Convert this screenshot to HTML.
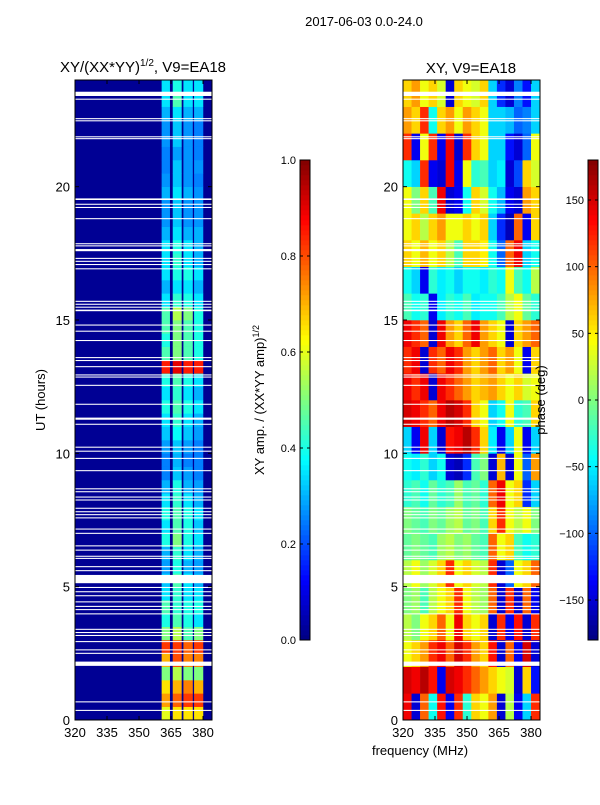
<!DOCTYPE html>
<html><head><meta charset="utf-8"><style>
body{margin:0;background:#fff;font-family:"Liberation Sans",sans-serif}
svg text{font-family:"Liberation Sans",sans-serif;fill:#000}
</style></head><body>
<svg id="fig" width="600" height="800" xmlns="http://www.w3.org/2000/svg">
<text x="364" y="26" font-size="13" text-anchor="middle">2017-06-03 0.0-24.0</text>
<text x="143" y="72" font-size="15" text-anchor="middle">XY/(XX*YY)<tspan font-size="10" dy="-6">1/2</tspan><tspan dy="6">, V9=EA18</tspan></text>
<text x="471" y="73" font-size="15" text-anchor="middle">XY, V9=EA18</text>
<text transform="translate(45,400) rotate(-90)" font-size="13" text-anchor="middle">UT (hours)</text>
<text x="420" y="755" font-size="13" text-anchor="middle">frequency (MHz)</text>
<text transform="translate(264,400) rotate(-90)" font-size="13" text-anchor="middle">XY amp. / (XX*YY amp)<tspan font-size="9" dy="-5">1/2</tspan></text>
<g id="left"></g>
<g id="right"></g>
<g id="cb1"></g>
<g id="cb2"></g>
<g id="axes"></g>
<text transform="translate(545,400) rotate(-90)" font-size="13" text-anchor="middle">phase (deg)</text>
</svg>
<script>
const ampBands = [[360.6,364.5],[365.8,370],[370.8,375.2],[375.8,380.1]];
const ampRows = [
[0.6,0.65,0.65,0.65],[0.72,0.78,0.82,0.82],[0.65,0.7,0.75,0.7],[0.5,0.55,0.5,0.5],
[0.7,0.8,0.75,0.75],[0.82,0.82,0.78,0.82],[0.5,0.55,0.45,0.5],[0.4,0.45,0.4,0.35],
[0.45,0.42,0.4,0.4],[0.35,0.42,0.35,0.35],[0.32,0.45,0.35,0.3],[0.28,0.4,0.3,0.28],
[0.3,0.42,0.35,0.3],[0.4,0.5,0.4,0.35],[0.35,0.45,0.4,0.32],[0.4,0.45,0.4,0.35],
[0.35,0.42,0.35,0.3],[0.3,0.4,0.3,0.28],[0.25,0.32,0.28,0.25],[0.25,0.3,0.25,0.25],
[0.28,0.32,0.28,0.25],[0.32,0.38,0.32,0.28],[0.35,0.42,0.35,0.3],[0.4,0.45,0.4,0.35],
[0.35,0.42,0.35,0.3],[0.4,0.45,0.4,0.35],[0.85,0.9,0.85,0.85],[0.45,0.5,0.45,0.4],
[0.4,0.5,0.45,0.4],[0.45,0.5,0.45,0.4],[0.45,0.55,0.5,0.4],[0.35,0.42,0.4,0.35],
[0.3,0.35,0.35,0.3],[0.35,0.4,0.4,0.35],[0.35,0.42,0.35,0.3],[0.35,0.4,0.35,0.3],
[0.3,0.35,0.3,0.3],[0.27,0.32,0.27,0.27],[0.27,0.32,0.27,0.27],[0.3,0.35,0.3,0.27],
[0.27,0.32,0.27,0.25],[0.25,0.32,0.27,0.27],[0.25,0.28,0.27,0.25],[0.27,0.32,0.27,0.25],
[0.27,0.32,0.27,0.25],[0.3,0.35,0.3,0.3],[0.35,0.45,0.35,0.35],[0.35,0.4,0.35,0.35]];
const ampBackground = 0.02;
const phaseFreqs = [320,324,328,332,336,340,344,348,352,356,360,364,368,372,376,380,384];
const phaseRows = [
[140,-150,100,-40,130,-140,120,-30,60,40,80,-150,20,-140,-60,120],
[150,140,160,130,-140,150,140,120,100,80,60,40,30,-150,60,-130],
[40,60,80,120,140,100,150,120,80,60,130,-150,100,-140,150,-150],
[20,0,40,60,100,40,140,60,40,60,-150,120,-140,130,-150,120],
[0,10,-20,20,40,60,120,40,20,10,100,-150,120,-150,100,-140],
[20,40,10,30,60,120,40,60,30,20,120,-150,-100,40,60,100],
[-10,0,-10,-20,10,20,0,10,-10,-20,100,40,60,-20,-40,-30],
[0,-10,-20,0,-10,10,20,-10,0,-20,60,120,40,20,40,0],
[-30,-20,-40,-10,-30,-20,10,-20,-10,-30,100,140,40,60,-120,-60],
[-40,-50,-30,-60,-40,-150,-160,-120,-20,0,-150,70,-150,40,-100,80],
[-60,-140,140,-60,-150,130,140,160,120,60,-50,-140,-60,40,-140,-60],
[150,140,120,100,140,160,150,120,60,40,-60,-40,40,-30,-20,60],
[140,120,140,-150,140,120,100,80,60,70,80,60,40,60,30,40],
[120,140,-150,120,100,140,120,80,60,80,100,60,80,40,-140,60],
[140,120,100,-150,140,80,60,100,140,80,60,40,-150,60,80,100],
[-20,-40,-30,-140,-50,-30,-40,-20,-50,-40,-40,-20,20,40,-10,-30],
[-40,-60,-140,-30,-50,-40,-60,-40,-40,-50,-30,-40,40,-20,-40,20],
[60,40,70,40,60,20,-20,60,60,50,-40,-100,100,140,-60,-40],
[40,60,20,60,80,40,40,60,40,60,-60,-120,-160,100,-140,60],
[40,0,60,-20,140,-150,-140,-40,60,30,-40,-70,-140,-150,80,60],
[-40,-60,120,-140,-150,140,-140,40,-30,-20,-60,-50,-150,-110,60,30],
[120,-140,40,120,-140,140,-150,120,60,40,-60,-60,-130,-150,-100,40],
[80,60,120,-40,60,80,40,80,60,40,-60,-60,-70,-100,-90,-60],
[60,80,40,60,30,-150,60,40,30,60,-60,-120,-150,-90,-130,-60]];
const gapHours = [[23.40,23.56],[23.26,23.3],[22.53,22.57],[22.45,22.49],[21.85,21.89],[21.78,21.82],
[19.5,19.56],[19.32,19.36],[19.2,19.24],[18.78,18.82],[17.84,17.88],[17.76,17.8],[17.58,17.66],
[17.29,17.33],[17.18,17.22],[17.06,17.1],[16.9,16.94],[15.68,15.72],[15.57,15.61],[15.46,15.5],[15.33,15.39],
[14.79,14.83],[14.56,14.6],[14.21,14.25],[13.57,13.61],[13.46,13.5],[13.23,13.27],[12.92,12.96],[12.84,12.88],
[12.53,12.57],[11.82,11.86],[11.26,11.34],[11.07,11.11],[10.21,10.25],[10.06,10.1],[9.79,9.83],[9.33,9.37],
[8.65,8.69],[8.54,8.58],[8.34,8.38],[8.23,8.27],[7.92,7.96],[7.79,7.83],[7.68,7.72],[7.56,7.6],
[7.14,7.18],[6.98,7.02],[6.51,6.55],[6.35,6.39],[6.12,6.16],[6.04,6.08],[5.73,5.77],[5.58,5.62],
[5.13,5.44],[4.95,4.99],[4.79,4.83],[4.64,4.68],[4.41,4.45],[4.24,4.28],[4.12,4.16],[3.96,4.0],
[3.38,3.42],[3.26,3.3],[3.15,3.19],[2.92,2.96],[2.61,2.65],[2.48,2.52],[2.03,2.19],[0.66,0.7],[0.34,0.38]];
const yTicks = [0,5,10,15,20];
const xTicks = [320,335,350,365,380];
const ampTicks = [0.0,0.2,0.4,0.6,0.8,1.0];
const phaseTicks = [-150,-100,-50,0,50,100,150];

const NS='http://www.w3.org/2000/svg';
function el(tag,attrs,parent){const e=document.createElementNS(NS,tag);for(const k in attrs)e.setAttribute(k,attrs[k]);parent.appendChild(e);return e;}
function cl(v){return Math.max(0,Math.min(1,v));}
function jet(t){const r=cl(1.5-Math.abs(4*t-3)),g=cl(1.5-Math.abs(4*t-2)),b=cl(1.5-Math.abs(4*t-1));return `rgb(${Math.round(r*255)},${Math.round(g*255)},${Math.round(b*255)})`;}
const T=80,B=720,FMIN=320,FMAX=384.2;
function yS(h){return B-(B-T)*h/24;}
function xL(f){return 75+(212-75)*(f-FMIN)/(FMAX-FMIN);}
function xR(f){return 403+(540-403)*(f-FMIN)/(FMAX-FMIN);}

const L=document.getElementById('left');
let bg=el('rect',{x:75,y:T,width:137,height:B-T,fill:jet(ampBackground)},L);


ampRows.forEach((row,i)=>{
  const y0=yS((i+1)*0.5),y1=yS(i*0.5);
  row.forEach((v,j)=>{
    const b=ampBands[j];
    const r=el('rect',{x:xL(b[0]),y:y0,width:xL(b[1])-xL(b[0]),height:y1-y0+0.3,fill:jet(v)},L);
    
    
  });
});
const R=document.getElementById('right');
phaseRows.forEach((row,i)=>{
  const y0=yS(i+1),y1=yS(i);
  row.forEach((v,j)=>{
    const r=el('rect',{x:xR(phaseFreqs[j]),y:y0,width:xR(phaseFreqs[j+1])-xR(phaseFreqs[j])+0.3,height:y1-y0+0.3,fill:jet((v+180)/360)},R);
    
    
  });
});
[[L,75],[R,403]].forEach(([g,x0])=>{
  gapHours.forEach(gp=>{
    const y0=yS(gp[1]),y1=yS(gp[0]);
    const r=el('rect',{x:x0,y:y0,width:137,height:Math.max(1,y1-y0),fill:'#fff'},g);
    
    
  });
});
function colorbar(id,x,vmin,vmax,ticks,fmt){
  const g=document.getElementById(id);
  for(let k=0;k<96;k++){
    const t=k/96;
    const r=el('rect',{x:x,y:640-(k+1)*5,width:10,height:5.3,fill:jet(t+0.5/96)},g);
    
    
  }
  el('rect',{x:x,y:160,width:10,height:480,fill:'none',stroke:'#000','stroke-width':1},g);
  ticks.forEach(v=>{
    const y=640-480*(v-vmin)/(vmax-vmin);
    el('line',{x1:x,x2:x+3,y1:y,y2:y,stroke:'#000'},g);
    el('line',{x1:x+7,x2:x+10,y1:y,y2:y,stroke:'#000'},g);
    const t=el('text',{x:x-4,y:y+4,'font-size':11,'text-anchor':'end'},g);
    t.textContent=fmt(v);
    
    
  });
}
colorbar('cb1',300,0,1,ampTicks,v=>v.toFixed(1));
colorbar('cb2',588,-180,180,phaseTicks,v=>v<0?'\u2212'+Math.abs(v):String(v));
const A=document.getElementById('axes');
[[75,xL],[403,xR]].forEach(([x0,xs])=>{
  el('rect',{x:x0,y:T,width:137,height:B-T,fill:'none',stroke:'#000','stroke-width':1},A);
  yTicks.forEach(h=>{
    const y=yS(h);
    el('line',{x1:x0,x2:x0+4,y1:y,y2:y,stroke:'#000'},A);
    el('line',{x1:x0+133,x2:x0+137,y1:y,y2:y,stroke:'#000'},A);
    const t=el('text',{x:x0-5,y:y+5,'font-size':13,'text-anchor':'end'},A);
    t.textContent=h;
    
    
  });
  xTicks.forEach(f=>{
    const x=xs(f);
    el('line',{x1:x,x2:x,y1:B,y2:B-4,stroke:'#000'},A);
    el('line',{x1:x,x2:x,y1:T,y2:T+4,stroke:'#000'},A);
    const t=el('text',{x:x,y:B+17,'font-size':13,'text-anchor':'middle'},A);
    t.textContent=f;
    
    
  });
});
</script>
</body></html>
